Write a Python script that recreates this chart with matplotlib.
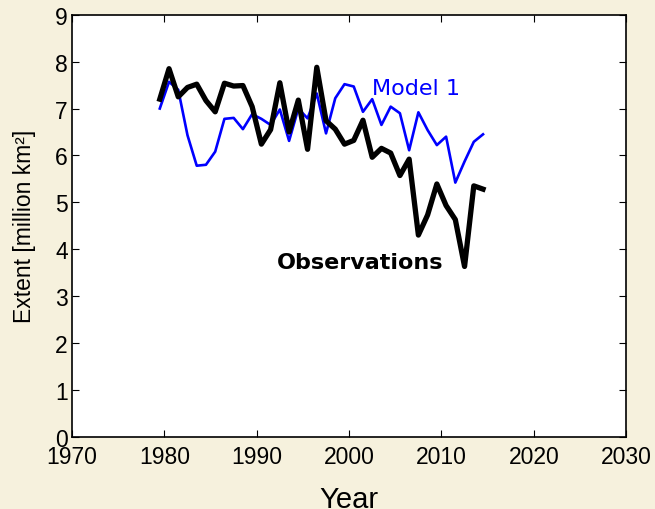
import matplotlib
matplotlib.use('Agg')
import matplotlib.pyplot as plt

# September sea ice extent, million km^2 (plotted at mid-year)
years = list(range(1979, 2015))
observations = [7.20, 7.85, 7.25, 7.45, 7.52, 7.17, 6.93, 7.54, 7.48, 7.49,
                7.04, 6.24, 6.55, 7.55, 6.50, 7.18, 6.13, 7.88, 6.74, 6.56,
                6.24, 6.32, 6.75, 5.96, 6.15, 6.05, 5.57, 5.92, 4.30, 4.73,
                5.39, 4.93, 4.63, 3.63, 5.35, 5.28]
model1 = [7.00, 7.57, 7.40, 6.43, 5.78, 5.80, 6.08, 6.78, 6.80, 6.56,
          6.88, 6.78, 6.65, 6.98, 6.31, 7.00, 6.79, 7.32, 6.47, 7.22,
          7.52, 7.47, 6.93, 7.20, 6.65, 7.04, 6.90, 6.11, 6.92, 6.54,
          6.22, 6.40, 5.42, 5.87, 6.29, 6.45]

xticks = [1970, 1980, 1990, 2000, 2010, 2020, 2030]
yticks = list(range(0, 10))

bg = '#F6F1DD'
fig = plt.figure(figsize=(6.55, 5.10), dpi=100, facecolor=bg)
ax = fig.add_axes([0.110, 0.142, 0.846, 0.827])

x = [y + 0.5 for y in years]
ax.plot(x, model1, color='#0000FF', lw=1.9)
ax.plot(x, observations, color='black', lw=3.8)

ax.text(2001.2, 3.72, 'Observations', fontsize=16, fontweight='bold',
        ha='center', va='center', family='DejaVu Sans')
ax.text(2002.5, 7.43, 'Model 1', fontsize=16, color='#0000FF',
        ha='left', va='center', family='DejaVu Sans')

ax.set_xlim(1970, 2030)
ax.set_ylim(0, 9)
ax.set_xticks(xticks)
ax.set_yticks(yticks)
ax.tick_params(direction='in', top=True, right=True, length=5, width=0.8,
               labelsize=16.5)
ax.tick_params(axis='x', pad=6)
ax.tick_params(axis='y', pad=3)
for lab in ax.get_xticklabels() + ax.get_yticklabels():
    lab.set_family('Liberation Sans')
for s in ax.spines.values():
    s.set_linewidth(1.2)

ax.set_xlabel('Year', fontsize=21, family='Liberation Sans', labelpad=12)
ax.set_ylabel('Extent [million km²]', fontsize=16.5, family='Liberation Sans',
              labelpad=14)

fig.savefig('out.png', dpi=100, facecolor=bg)
